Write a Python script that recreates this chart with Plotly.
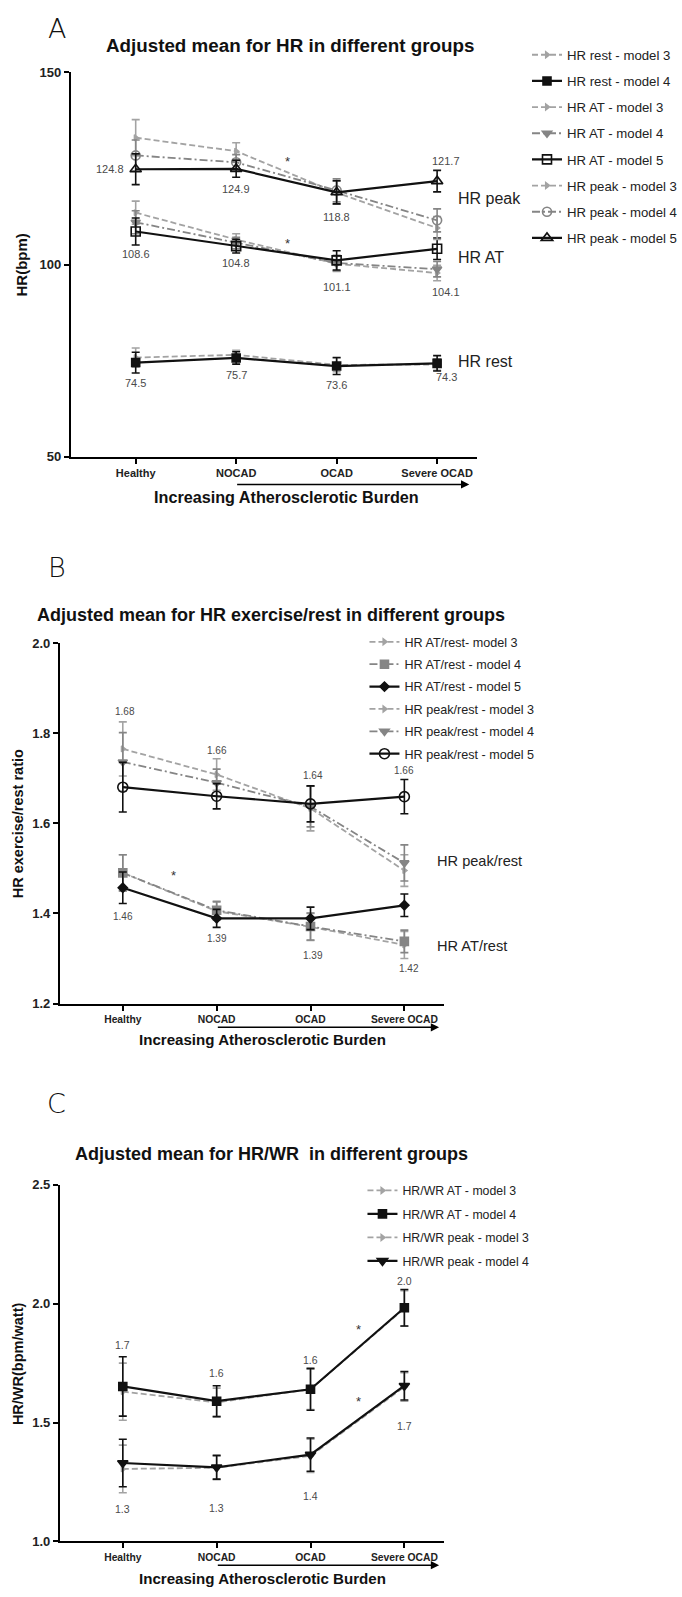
import plotly.graph_objects as go

W, H = 682, 1597
FONT = "Liberation Sans"

categories = ["Healthy", "NOCAD", "OCAD", "Severe OCAD"]
cat_pos = [0, 1, 2, 3]

# ---------------- Panel A : HR (bpm) ----------------
hr_rest_m3 = [75.8, 76.5, 73.9, 74.0]
hr_rest_m3_err = [2.5, 1.2, 1.8, 1.5]
hr_rest_m4 = [74.5, 75.7, 73.6, 74.3]
hr_rest_m4_err = [2.7, 1.6, 2.2, 2.0]
hr_at_m3 = [113.5, 106.5, 100.2, 97.8]
hr_at_m3_err = [3.0, 1.5, 2.0, 2.0]
hr_at_m4 = [111.0, 105.6, 100.4, 98.8]
hr_at_m4_err = [3.0, 1.5, 2.0, 2.0]
hr_at_m5 = [108.6, 104.8, 101.1, 104.1]
hr_at_m5_err = [3.5, 1.8, 2.5, 2.8]
hr_peak_m3 = [133.0, 129.5, 118.7, 109.5]
hr_peak_m3_err = [4.7, 2.2, 3.0, 3.0]
hr_peak_m4 = [128.4, 126.6, 119.3, 111.5]
hr_peak_m4_err = [4.0, 2.0, 3.0, 3.0]
hr_peak_m5 = [124.8, 124.9, 118.8, 121.7]
hr_peak_m5_err = [4.0, 2.2, 3.0, 2.8]
a_yticks = [50, 100, 150]
a_peak_labels = ["124.8", "124.9", "118.8", "121.7"]
a_at_labels = ["108.6", "104.8", "101.1", "104.1"]
a_rest_labels = ["74.5", "75.7", "73.6", "74.3"]
a_sig_x = [1.51, 1.51]
a_sig_y = [126.9, 105.5]
a_group_names = ["HR peak", "HR AT", "HR rest"]
a_group_y = [117.3, 101.8, 74.8]

# ---------------- Panel B : HR exercise/rest ratio ----------------
b_at_m3 = [1.490, 1.405, 1.370, 1.330]
b_at_m3_err = [0.040, 0.020, 0.030, 0.030]
b_at_m4 = [1.490, 1.407, 1.371, 1.338]
b_at_m4_err = [0.040, 0.020, 0.030, 0.025]
b_at_m5 = [1.457, 1.389, 1.389, 1.418]
b_at_m5_err = [0.035, 0.020, 0.025, 0.025]
b_peak_m3 = [1.765, 1.708, 1.633, 1.495]
b_peak_m3_err = [0.060, 0.035, 0.050, 0.035]
b_peak_m4 = [1.736, 1.690, 1.637, 1.512]
b_peak_m4_err = [0.065, 0.030, 0.045, 0.040]
b_peak_m5 = [1.680, 1.660, 1.643, 1.659]
b_peak_m5_err = [0.055, 0.028, 0.040, 0.038]
b_yticks = [1.2, 1.4, 1.6, 1.8, 2.0]
b_peak_labels = ["1.68", "1.66", "1.64", "1.66"]
b_at_labels = ["1.46", "1.39", "1.39", "1.42"]
b_sig_x = [0.54]
b_sig_y = [1.484]
b_group_names = ["HR peak/rest", "HR AT/rest"]
b_group_y = [1.516, 1.327]

# ---------------- Panel C : HR/WR (bpm/watt) ----------------
c_at_m3 = [1.630, 1.585, 1.640, 1.980]
c_at_m3_err = [0.120, 0.060, 0.085, 0.075]
c_at_m4 = [1.652, 1.590, 1.640, 1.983]
c_at_m4_err = [0.125, 0.065, 0.088, 0.077]
c_peak_m3 = [1.305, 1.310, 1.360, 1.650]
c_peak_m3_err = [0.100, 0.050, 0.070, 0.060]
c_peak_m4 = [1.330, 1.312, 1.365, 1.655]
c_peak_m4_err = [0.100, 0.050, 0.070, 0.060]
c_yticks = [1.0, 1.5, 2.0, 2.5]
c_at_labels = ["1.7", "1.6", "1.6", "2.0"]
c_peak_labels = ["1.3", "1.3", "1.4", "1.7"]
c_sig_x = [2.51, 2.51]
c_sig_y = [1.89, 1.59]
c_group_names = ["HR/WR AT", "HR/WR Peak"]
c_group_y = [2.04, 1.56]

# ---------------- styles / layout helpers ----------------
BLACK = "#111111"
GRAY3 = "#a3a3a3"
GRAY4 = "#858585"
LABEL_C = "#4a4a4a"
DASH3 = "6px,3px"
DASH4 = "8px,3px,2px,3px"


def pxx(p):
    return p / W


def pxy(p):
    return 1 - p / H


fig = go.Figure()


def series(name, y, err, xa, ya, leg, color, dash, symbol, msize, lw):
    fig.add_trace(go.Scatter(
        x=cat_pos, y=y, mode="lines+markers", name=name,
        xaxis=xa, yaxis=ya, legend=leg, legendgroup=name,
        line=dict(color=color, width=lw, dash=dash),
        marker=dict(symbol=symbol, size=msize, color=color,
                    line=dict(color=color, width=1.6)),
        error_y=dict(type="data", array=err, color=color, thickness=1.6, width=4),
        cliponaxis=False,
    ))


# Panel A traces (legend order)
series("HR rest - model 3", hr_rest_m3, hr_rest_m3_err, "x", "y", "legend", GRAY3, DASH3, "triangle-right", 5, 1.8)
series("HR rest - model 4", hr_rest_m4, hr_rest_m4_err, "x", "y", "legend", BLACK, "solid", "square", 8, 2.2)
series("HR AT - model 3", hr_at_m3, hr_at_m3_err, "x", "y", "legend", GRAY3, DASH3, "triangle-right", 5, 1.8)
series("HR AT - model 4", hr_at_m4, hr_at_m4_err, "x", "y", "legend", GRAY4, DASH4, "triangle-down", 8, 1.8)
series("HR AT - model 5", hr_at_m5, hr_at_m5_err, "x", "y", "legend", BLACK, "solid", "square-open", 9, 2.2)
series("HR peak - model 3", hr_peak_m3, hr_peak_m3_err, "x", "y", "legend", GRAY3, DASH3, "triangle-right", 5, 1.8)
series("HR peak - model 4", hr_peak_m4, hr_peak_m4_err, "x", "y", "legend", GRAY4, DASH4, "circle-open", 9, 1.8)
series("HR peak - model 5", hr_peak_m5, hr_peak_m5_err, "x", "y", "legend", BLACK, "solid", "triangle-up-open", 10, 2.2)

# Panel B traces
series("HR AT/rest- model 3", b_at_m3, b_at_m3_err, "x2", "y2", "legend2", GRAY3, DASH3, "triangle-right", 5, 1.8)
series("HR AT/rest - model 4", b_at_m4, b_at_m4_err, "x2", "y2", "legend2", GRAY4, DASH4, "square", 8, 1.8)
series("HR AT/rest - model 5", b_at_m5, b_at_m5_err, "x2", "y2", "legend2", BLACK, "solid", "diamond", 7, 2.2)
series("HR peak/rest - model 3", b_peak_m3, b_peak_m3_err, "x2", "y2", "legend2", GRAY3, DASH3, "triangle-right", 5, 1.8)
series("HR peak/rest - model 4", b_peak_m4, b_peak_m4_err, "x2", "y2", "legend2", GRAY4, DASH4, "triangle-down", 8, 1.8)
series("HR peak/rest - model 5", b_peak_m5, b_peak_m5_err, "x2", "y2", "legend2", BLACK, "solid", "circle-open", 10, 2.2)

# Panel C traces
series("HR/WR AT - model 3", c_at_m3, c_at_m3_err, "x3", "y3", "legend3", GRAY3, DASH3, "triangle-right", 5, 1.8)
series("HR/WR AT - model 4", c_at_m4, c_at_m4_err, "x3", "y3", "legend3", BLACK, "solid", "square", 8, 2.2)
series("HR/WR peak - model 3", c_peak_m3, c_peak_m3_err, "x3", "y3", "legend3", GRAY3, DASH3, "triangle-right", 5, 1.8)
series("HR/WR peak - model 4", c_peak_m4, c_peak_m4_err, "x3", "y3", "legend3", BLACK, "solid", "triangle-down", 9, 2.2)


# ---------------- axes ----------------
def xaxis_cfg(d0, d1, r0, r1, anchor, fsize):
    return dict(domain=[pxx(d0), pxx(d1)], range=[r0, r1], anchor=anchor,
                tickmode="array", tickvals=cat_pos, ticktext=categories,
                showline=True, linecolor="black", linewidth=2,
                ticks="outside", ticklen=5, tickwidth=2, tickcolor="black",
                tickfont=dict(family=FONT, size=fsize, color="#222222", weight="bold"),
                showgrid=False, zeroline=False, fixedrange=True)


def yaxis_cfg(p_bottom, p_top, r0, r1, ticks, fmt, anchor, fsize):
    return dict(domain=[pxy(p_bottom), pxy(p_top)], range=[r0, r1], anchor=anchor,
                tickmode="array", tickvals=ticks, tickformat=fmt,
                showline=True, linecolor="black", linewidth=2,
                ticks="outside", ticklen=5, tickwidth=2, tickcolor="black",
                tickfont=dict(family=FONT, size=fsize, color="#222222", weight="bold"),
                showgrid=False, zeroline=False, fixedrange=True)


fig.update_layout(
    xaxis=xaxis_cfg(71, 478, -0.645, 3.40, "y", 11),
    yaxis=yaxis_cfg(454, 66, 50, 150, a_yticks, "d", "x", 13),
    xaxis2=xaxis_cfg(60, 445, -0.670, 3.426, "y2", 10.3),
    yaxis2=yaxis_cfg(1006, 642, 1.2, 2.0, b_yticks, ".1f", "x2", 13),
    xaxis3=xaxis_cfg(60, 445, -0.670, 3.426, "y3", 10.3),
    yaxis3=yaxis_cfg(1549, 1189, 1.0, 2.5, c_yticks, ".1f", "x3", 13),
)

# ---------------- annotations ----------------
ann = []


def text_ann(x, y, text, size, xref="paper", yref="paper", color="#111111", bold=False,
             xanchor="center", yanchor="middle", angle=0, family=FONT, weight=None, xshift=0, yshift=0):
    f = dict(family=family, size=size, color=color)
    if weight is not None:
        f["weight"] = weight
    elif bold:
        f["weight"] = "bold"
    ann.append(dict(x=x, y=y, xref=xref, yref=yref, text=text, showarrow=False,
                    font=f, xanchor=xanchor, yanchor=yanchor, textangle=angle,
                    xshift=xshift, yshift=yshift))


def value_labels(labels, vals, xr, yr, dxs, dys, size):
    for i, lab in enumerate(labels):
        text_ann(cat_pos[i], vals[i], lab, size, xref=xr, yref=yr, color=LABEL_C,
                 xshift=dxs[i], yshift=dys[i])


# panel letters
text_ann(pxx(57), pxy(22), "A", 27, family="DejaVu Sans", weight=200)
text_ann(pxx(57), pxy(566), "B", 27, family="DejaVu Sans", weight=200)
text_ann(pxx(57), pxy(1107), "C", 27, family="DejaVu Sans", weight=200)

# titles
text_ann(pxx(104), pxy(39), "Adjusted mean for HR in different groups", 18.8, bold=True, xanchor="left")
text_ann(pxx(35), pxy(614), "Adjusted mean for HR exercise/rest in different groups", 18, bold=True, xanchor="left")
text_ann(pxx(73), pxy(1158), "Adjusted mean for HR/WR  in different groups", 18, bold=True, xanchor="left")

# y-axis titles
text_ann(pxx(22), pxy(260), "HR(bpm)", 15, bold=True, angle=-90)
text_ann(pxx(18), pxy(824), "HR exercise/rest ratio", 14.5, bold=True, angle=-90)
text_ann(pxx(18), pxy(1369), "HR/WR(bpm/watt)", 14.5, bold=True, angle=-90)

# x-axis titles
text_ann(pxx(287), pxy(495), "Increasing Atherosclerotic Burden", 16.2, bold=True)
text_ann(pxx(263), pxy(1042), "Increasing Atherosclerotic Burden", 15.1, bold=True)
text_ann(pxx(263), pxy(1586), "Increasing Atherosclerotic Burden", 15.1, bold=True)

# arrows under the x axes (from NOCAD to the right)
arrow_specs = [("x", 3.32, 100.7, 482), ("x2", 3.37, 94.0, 1030), ("x3", 3.37, 94.0, 1573)]
for xr, xend, step, py in arrow_specs:
    ann.append(dict(x=xend, y=pxy(py), xref=xr, yref="paper", text="", showarrow=True,
                    ax=-(xend - cat_pos[1]) * step, ay=0, axref="pixel", ayref="pixel",
                    arrowhead=2, arrowsize=1.1, arrowwidth=1.5, arrowcolor="black", standoff=0))

# value labels
value_labels(a_peak_labels, hr_peak_m5, "x", "y", [-26, 0, 0, 9], [0, -20, -25, 20], 11)
value_labels(a_at_labels, hr_at_m5, "x", "y", [0, 0, 0, 9], [-22, -17, -27, -43], 11)
value_labels(a_rest_labels, hr_rest_m4, "x", "y", [0, 0, 0, 9], [-20, -17, -19, -14], 11)
value_labels(b_peak_labels, b_peak_m5, "x2", "y2", [2, 0, 2, 0], [76, 46, 28, 26], 10)
value_labels(b_at_labels, b_at_m5, "x2", "y2", [0, 0, 2, 5], [-29, -20, -37, -63], 10)
value_labels(c_at_labels, c_at_m4, "x3", "y3", [0, 0, 0, 0], [41, 28, 29, 27], 10.5)
value_labels(c_peak_labels, c_peak_m4, "x3", "y3", [0, 0, 0, 0], [-46, -41, -41, -40], 10.5)

# significance stars
for xs, ys, xr, yr in [(a_sig_x, a_sig_y, "x", "y"), (b_sig_x, b_sig_y, "x2", "y2"), (c_sig_x, c_sig_y, "x3", "y3")]:
    for sx, sy in zip(xs, ys):
        text_ann(sx, sy, "*", 13, xref=xr, yref=yr, color="#333333")

# group names on the right
for name, gy in zip(a_group_names, a_group_y):
    text_ann(3.19, gy, name, 16, xref="x", yref="y", color="#222222", xanchor="left")
for name, gy in zip(b_group_names, b_group_y):
    text_ann(3.33, gy, name, 14.6, xref="x2", yref="y2", color="#222222", xanchor="left")
for name, gy in zip(c_group_names, c_group_y):
    text_ann(3.44, gy, name, 14.6, xref="x3", yref="y3", color="#222222", xanchor="left")


# ---------------- legends ----------------
def legend_cfg(text_x, top_y, size, gap):
    return dict(x=pxx(text_x - 40), y=pxy(top_y), xanchor="left", yanchor="top",
                bgcolor="rgba(0,0,0,0)", borderwidth=0, tracegroupgap=gap,
                font=dict(family=FONT, size=size, color="#222222"),
                traceorder="grouped", itemwidth=30)


fig.update_layout(
    width=W, height=H,
    margin=dict(l=0, r=0, t=0, b=0),
    paper_bgcolor="white", plot_bgcolor="white",
    showlegend=True,
    legend=legend_cfg(568, 33, 13.2, 6),
    legend2=legend_cfg(405, 626, 12.6, 3),
    legend3=legend_cfg(403, 1180, 12.3, 4.5),
    annotations=ann,
)

fig.write_html("out.html", config={"displayModeBar": False},
               post_script="document.body.style.margin='0';document.body.style.overflow='hidden';")
